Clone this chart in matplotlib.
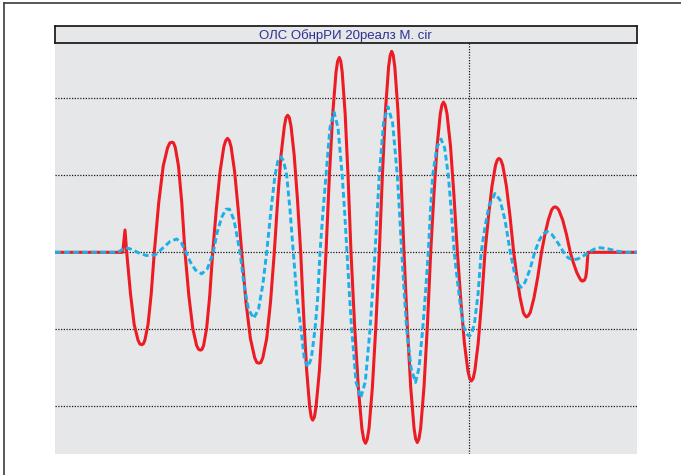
import matplotlib
matplotlib.use("Agg")
from matplotlib import pyplot as plt
from matplotlib.lines import Line2D

# title of the panel
title = "ОЛС ОбнрРИ 20реалз М. cir"

# red solid trace (sample index, amplitude in grid units), one row per half wave
red_t = [0, 67.7, 70,
         71.7, 75.5, 79.2, 83.0, 84.8, 86.7, 88.3, 89.9, 93.0, 96.2,
         99.3, 103.7, 108.2, 112.6, 114.8, 117, 118.6, 120.3, 123.5, 126.8,
         130, 133.9, 137.8, 141.6, 143.6, 145.5, 147.0, 148.6, 151.6, 154.7,
         157.7, 161.4, 165.1, 168.8, 170.7, 172.5, 174.3, 176.1, 179.6, 183.1,
         186.7, 191.0, 195.4, 199.7, 201.8, 204, 205.9, 207.8, 211.7, 215.5,
         219.3, 222.7, 226.0, 229.4, 231.0, 232.7, 234.3, 236.0, 239.2, 242.5,
         245.7, 248.7, 251.7, 254.7, 256.2, 257.7, 259.4, 261.0, 264.4, 267.7,
         271, 274.3, 277.7, 281.0, 282.6, 284.3, 285.8, 287.2, 290.2, 293.1,
         296, 299.6, 303.3, 306.9, 308.7, 310.5, 312.2, 314.0, 317.4, 320.9,
         324.3, 327.4, 330.5, 333.6, 335.2, 336.7, 338.2, 339.8, 342.9, 345.9,
         349, 352.3, 355.7, 359.0, 360.6, 362.3, 364.0, 365.7, 369.0, 372.4,
         375.7, 378.9, 382.1, 385.3, 386.9, 388.5, 390.2, 392.0, 395.5, 398.9,
         402.4, 405.9, 409.4, 412.9, 414.7, 416.4, 418.1, 419.8, 423.2, 426.6,
         430, 433.5, 437.0, 440.5, 442.3, 444, 445.8, 447.7, 451.4, 455.0,
         458.7, 461.9, 465.1, 468.3, 469.9, 471.5, 473.4, 475.3, 479.0, 482.8,
         486.5, 489.9, 493.3, 496.6, 498.3, 500, 501.9, 503.8, 507.7, 511.5,
         515.3, 518.5, 521.7, 524.8, 526.4, 528, 529.5, 530.8, 531.8, 532.5,
         533, 582]
red_v = [0, 0, 0.29,
         0, -0.54, -0.94, -1.14, -1.19, -1.2, -1.19, -1.14, -0.94, -0.54,
         0, 0.64, 1.12, 1.36, 1.42, 1.43, 1.42, 1.36, 1.12, 0.64,
         0, -0.57, -0.99, -1.21, -1.26, -1.27, -1.26, -1.21, -0.99, -0.57,
         0, 0.57, 1.05, 1.37, 1.45, 1.48, 1.45, 1.37, 1.05, 0.57,
         0, -0.65, -1.12, -1.37, -1.43, -1.44, -1.43, -1.37, -1.12, -0.65,
         0, 0.68, 1.26, 1.64, 1.75, 1.78, 1.75, 1.64, 1.26, 0.68,
         0, -0.83, -1.54, -2.01, -2.14, -2.18, -2.14, -2.01, -1.54, -0.83,
         0, 0.97, 1.79, 2.34, 2.48, 2.53, 2.48, 2.34, 1.79, 0.97,
         0, -0.95, -1.75, -2.29, -2.43, -2.48, -2.43, -2.29, -1.75, -0.95,
         0, 1.0, 1.85, 2.41, 2.56, 2.61, 2.56, 2.41, 1.85, 1.0,
         0, -0.95, -1.75, -2.28, -2.42, -2.47, -2.42, -2.28, -1.75, -0.95,
         0, 0.75, 1.38, 1.80, 1.91, 1.95, 1.91, 1.80, 1.38, 0.75,
         0, -0.64, -1.18, -1.54, -1.64, -1.67, -1.64, -1.54, -1.18, -0.64,
         0, 0.47, 0.86, 1.13, 1.20, 1.22, 1.20, 1.13, 0.86, 0.47,
         0, -0.32, -0.59, -0.78, -0.82, -0.84, -0.82, -0.78, -0.59, -0.32,
         0, 0.23, 0.42, 0.55, 0.58, 0.59, 0.58, 0.55, 0.42, 0.23,
         0, -0.14, -0.26, -0.34, -0.37, -0.373, -0.36, -0.32, -0.22, -0.1,
         0, 0]

# blue dashed trace
blue_t = [0, 63, 66.5, 71, 76, 85, 91, 96.7, 100.5, 103.3,
          109, 115, 121.7, 126.5, 131,
          135.5, 140.5, 146.7, 152.5, 158.3,
          162, 166.5, 171, 174.5, 179, 185,
          189, 193.5, 198.7, 203.5, 207.8, 211.7,
          216, 220, 223, 225.7, 228.5, 231.7, 235, 238.3,
          242, 246, 249.3, 252.7, 256.3, 260, 262.6, 265,
          268, 271, 275, 279, 283, 287.2, 289.6, 292,
          294.3, 296.7, 301, 305.7, 310.3, 315, 317.5, 320,
          322.2, 324.3, 328.5, 333, 337.6, 342.3, 344.5, 346.7,
          349.2, 351.7, 356, 360.5, 364, 367.7, 370.5, 373.3,
          375.5, 377.7, 381.8, 386, 389.6, 393.3, 396.2, 399.2,
          402.5, 405.5, 408.6, 411.5, 414.3, 416.8, 419.5, 423, 426.2,
          430, 434, 440, 445, 450, 455.3,
          459, 462, 466, 470, 475, 479.7,
          484, 488, 492, 497, 503, 508.6,
          513, 518, 523, 528.5, 534,
          539, 545, 553, 562, 571, 582]
blue_v = [0, 0, 0.03, 0.06, 0.04, -0.015, -0.04, -0.045, -0.03, 0,
          0.07, 0.14, 0.173, 0.12, 0,
          -0.13, -0.23, -0.28, -0.21, 0,
          0.25, 0.45, 0.56, 0.56, 0.42, 0,
          -0.42, -0.74, -0.857, -0.74, -0.42, 0,
          0.55, 1, 1.19, 1.24, 1.19, 1, 0.55, 0,
          -0.6, -1, -1.38, -1.49, -1.38, -1, -0.6, 0,
          0.53, 1, 1.62, 1.82, 1.62, 1, 0.53, 0,
          -0.52, -1, -1.68, -1.89, -1.68, -1, -0.52, 0,
          0.52, 1, 1.68, 1.89, 1.68, 1, 0.52, 0,
          -0.52, -1, -1.5, -1.69, -1.5, -1, -0.52, 0,
          0.55, 1, 1.36, 1.47, 1.36, 1, 0.55, 0,
          -0.38, -0.7, -0.96, -1.06, -1.09, -1.05, -0.92, -0.55, 0,
          0.33, 0.6, 0.764, 0.68, 0.42, 0,
          -0.24, -0.39, -0.455, -0.39, -0.22, 0,
          0.15, 0.24, 0.27, 0.23, 0.12, 0,
          -0.07, -0.1, -0.085, -0.045, 0,
          0.04, 0.06, 0.045, 0.015, 0, 0]

grid_levels = [-2, -1, 0, 1, 2]
marker_t = [414.3]

W, H = 681, 475
fig = plt.figure(figsize=(W / 100, H / 100), dpi=100)
fig.patch.set_facecolor("white")

# main plot area
ax = fig.add_axes([55 / W, (H - 454.3) / H, 582 / W, (454.3 - 42.7) / H])
ax.set_facecolor("#e6e7e8")
ax.set_xlim(0, 582)
ax.set_ylim(-2.623, 2.722)
ax.set_yticks(grid_levels)
ax.set_xticks(marker_t)
ax.tick_params(length=0, labelleft=False, labelbottom=False)
ax.grid(True, color="#1a1a1a", linestyle=(0, (1, 1.2)), linewidth=0.9)
ax.set_axisbelow(True)
for s in ax.spines.values():
    s.set_visible(False)

ax.plot(red_t, red_v, color="#ed1c24", linewidth=2.2,
        solid_joinstyle="round", solid_capstyle="round")
ax.plot(blue_t, blue_v, color="#1cb0ea", linewidth=2.1,
        linestyle=(0, (2.0, 1.1)), dash_capstyle="butt")

# title strip
tax = fig.add_axes([54.7 / W, (H - 42.7) / H, 581.8 / W, 17 / H])
tax.set_facecolor("#e6e7e8")
tax.set_xticks([])
tax.set_yticks([])
for s in tax.spines.values():
    s.set_color("#231f20")
    s.set_linewidth(1.3)
tax.text(0.5, 0.45, title, ha="center", va="center", fontsize=9.5,
         color="#2e3192", family=["Liberation Sans", "DejaVu Sans"],
         transform=tax.transAxes)

# outer frame (left and top edges only)
fig.add_artist(Line2D([4 / W, 4 / W], [0, 1 - 3.3 / H], color="#3c3c3c",
                      linewidth=1.2, transform=fig.transFigure))
fig.add_artist(Line2D([4 / W, 1], [1 - 3.3 / H, 1 - 3.3 / H], color="#3c3c3c",
                      linewidth=1.2, transform=fig.transFigure))

fig.savefig("out.png", dpi=100)
